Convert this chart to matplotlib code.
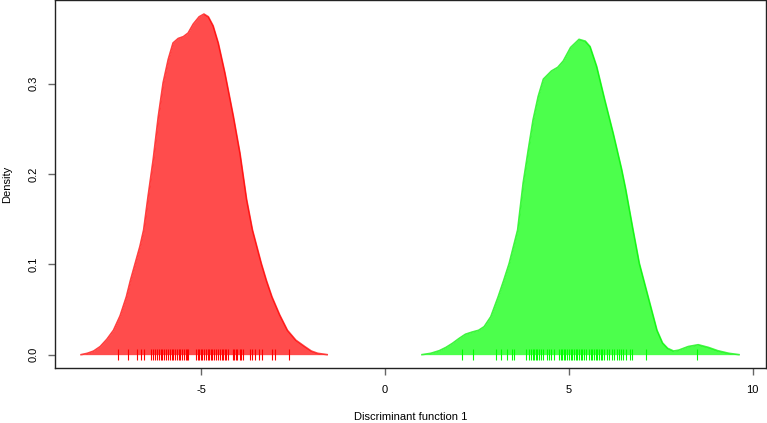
import matplotlib
matplotlib.use("Agg")
import matplotlib.pyplot as plt

plt.rcParams['font.family'] = ['Liberation Sans', 'DejaVu Sans']

# Density curve of group 1 (red)
red_x = [-8.26, -8.09, -7.92, -7.74, -7.56, -7.38, -7.20, -7.03, -6.92, -6.79, -6.66, -6.56,
         -6.44, -6.30, -6.16, -6.03, -5.89, -5.76, -5.62, -5.48, -5.35, -5.21, -5.05, -4.92,
         -4.80, -4.67, -4.53, -4.35, -4.12, -3.94, -3.76, -3.60, -3.36, -3.22, -3.07, -2.86,
         -2.65, -2.42, -2.18, -2.00, -1.83, -1.57]
red_y = [0.0, 0.0015, 0.004, 0.009, 0.017, 0.027, 0.043, 0.064, 0.082, 0.101, 0.120, 0.138,
         0.175, 0.216, 0.264, 0.301, 0.327, 0.345, 0.350, 0.352, 0.356, 0.366, 0.374, 0.377,
         0.374, 0.364, 0.345, 0.312, 0.264, 0.223, 0.172, 0.138, 0.101, 0.082, 0.064, 0.044,
         0.027, 0.016, 0.009, 0.004, 0.0015, 0.0]

# Density curve of group 2 (green)
green_x = [1.01, 1.25, 1.48, 1.66, 1.84, 2.02, 2.19, 2.37, 2.55, 2.70, 2.88, 3.08, 3.23, 3.38,
           3.61, 3.76, 3.90, 4.03, 4.17, 4.31, 4.53, 4.70, 4.85, 5.05, 5.28, 5.45, 5.58, 5.76,
           5.98, 6.21, 6.44, 6.55, 6.75, 6.92, 7.16, 7.40, 7.55, 7.69, 7.85, 7.99, 8.25, 8.52,
           8.80, 9.05, 9.35, 9.63]
green_y = [0.0, 0.0015, 0.0044, 0.008, 0.0126, 0.018, 0.0226, 0.025, 0.027, 0.031, 0.042,
           0.064, 0.082, 0.101, 0.138, 0.190, 0.227, 0.260, 0.286, 0.305, 0.314, 0.318, 0.325,
           0.340, 0.349, 0.347, 0.341, 0.319, 0.282, 0.245, 0.205, 0.183, 0.138, 0.101, 0.064,
           0.027, 0.013, 0.007, 0.004, 0.005, 0.009, 0.011, 0.008, 0.0044, 0.0015, 0.0]

# Rug (observations)
red_rug = [-7.25, -6.98, -6.73, -6.64, -6.55, -6.35, -6.30, -6.24, -6.19, -6.15, -6.10, -6.06,
           -6.01, -5.94, -5.89, -5.85, -5.80, -5.76, -5.71, -5.65, -5.60, -5.56, -5.51, -5.47,
           -5.42, -5.38, -5.35, -5.14, -5.09, -5.05, -5.00, -4.96, -4.91, -4.87, -4.82, -4.78,
           -4.73, -4.69, -4.64, -4.58, -4.53, -4.49, -4.44, -4.40, -4.35, -4.31, -4.26, -4.14,
           -4.10, -4.05, -4.01, -3.94, -3.90, -3.85, -3.67, -3.60, -3.54, -3.42, -3.33, -3.08,
           -2.99, -2.60]
green_rug = [2.11, 2.40, 3.02, 3.15, 3.31, 3.45, 3.51, 3.83, 3.93, 3.97, 4.02, 4.06, 4.11,
             4.15, 4.20, 4.24, 4.29, 4.40, 4.46, 4.53, 4.61, 4.74, 4.78, 4.82, 4.87, 4.91,
             4.96, 5.00, 5.05, 5.09, 5.14, 5.19, 5.23, 5.28, 5.32, 5.37, 5.41, 5.46, 5.55,
             5.60, 5.64, 5.69, 5.73, 5.78, 5.82, 5.87, 5.91, 5.96, 6.03, 6.10, 6.17, 6.23,
             6.30, 6.36, 6.42, 6.48, 6.55, 6.66, 6.73, 7.09, 8.49]

x_ticks = [-5, 0, 5, 10]
y_ticks = [0.0, 0.1, 0.2, 0.3]
y_ticklabels = ["0.0", "0.1", "0.2", "0.3"]

fig = plt.figure(figsize=(7.67, 4.23), dpi=100)
ax = fig.add_axes([55 / 767, 1 - 368.3 / 423, (765.5 - 55) / 767, (368.3 - 0.5) / 423])

ax.fill_between(red_x, 0, red_y, color=(1, 0, 0, 0.7), linewidth=0)
ax.plot(red_x, red_y, color=(1, 0, 0, 0.75), lw=1.2, solid_joinstyle='round')
ax.fill_between(green_x, 0, green_y, color=(0, 1, 0, 0.7), linewidth=0)
ax.plot(green_x, green_y, color=(0, 0.95, 0, 0.75), lw=1.2, solid_joinstyle='round')

ax.vlines(red_rug, -0.006, 0.0063, color='#ff0000', lw=0.8)
ax.vlines(green_rug, -0.006, 0.0063, color='#00ff00', lw=0.8)

ax.set_xlim(-8.97, 10.35)
ax.set_ylim(-0.0151, 0.392)

ax.set_xticks(x_ticks)
ax.set_xticklabels([str(t) for t in x_ticks])
ax.set_yticks(y_ticks)
ax.set_yticklabels(y_ticklabels, rotation=90, va='center')

ax.tick_params(axis='both', direction='out', length=5, width=1, color='#666666',
               labelsize=8, pad=7)
for s in ax.spines.values():
    s.set_color('#222222')
    s.set_linewidth(1)

ax.set_xlabel("Discriminant function 1", fontsize=8, labelpad=12)
ax.set_ylabel("Density", fontsize=8, labelpad=12)

fig.savefig("out.png", dpi=100)
